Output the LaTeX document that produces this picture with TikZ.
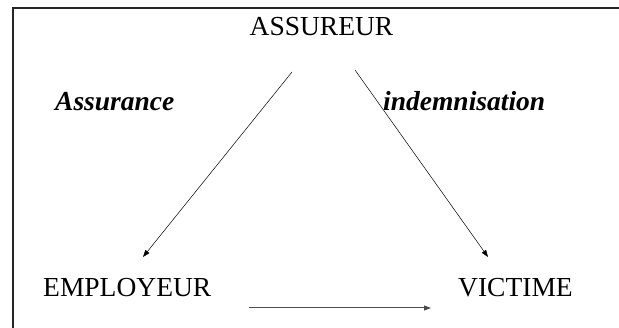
\documentclass[tikz,border=0pt]{standalone}
\usepackage{fontspec}
\setmainfont{Liberation Serif}
\usetikzlibrary{arrows.meta}
\begin{document}
\begin{tikzpicture}[x=1pt,y=1pt,
  lbl/.style={inner sep=0pt,anchor=base west,font=\fontsize{27.5}{30}\selectfont},
  ital/.style={lbl,font=\fontsize{27.5}{30}\selectfont\bfseries\itshape},
  thinarrow/.style={line width=0.5pt,-{Triangle[length=7pt,width=5pt]}},
  thickarrow/.style={line width=1pt,draw=black!70,-{Triangle[length=7pt,width=5pt]}}]
\useasboundingbox (0,0) rectangle (619,328);
\draw[line width=1.4pt,draw=black!85] (13,0) -- (13,320) -- (619,320);
\node[lbl,anchor=base] (ass) at (321.5,292) {ASSUREUR};
\node[ital] (assu) at (55,217) {Assurance};
\node[ital] (ind) at (383,217) {indemnisation};
\node[lbl] (emp) at (43,31) {EMPLOYEUR};
\node[lbl] (vic) at (458,31) {VICTIME};
\coordinate (l1) at (292,256);
\coordinate (l2) at (143,71);
\coordinate (r1) at (355,258);
\coordinate (r2) at (488,71);
\coordinate (b1) at (249,20);
\coordinate (b2) at (431,20);
\draw[thinarrow] (l1) -- (l2);
\draw[thinarrow] (r1) -- (r2);
\draw[thickarrow] (b1) -- (b2);
\end{tikzpicture}
\end{document}
